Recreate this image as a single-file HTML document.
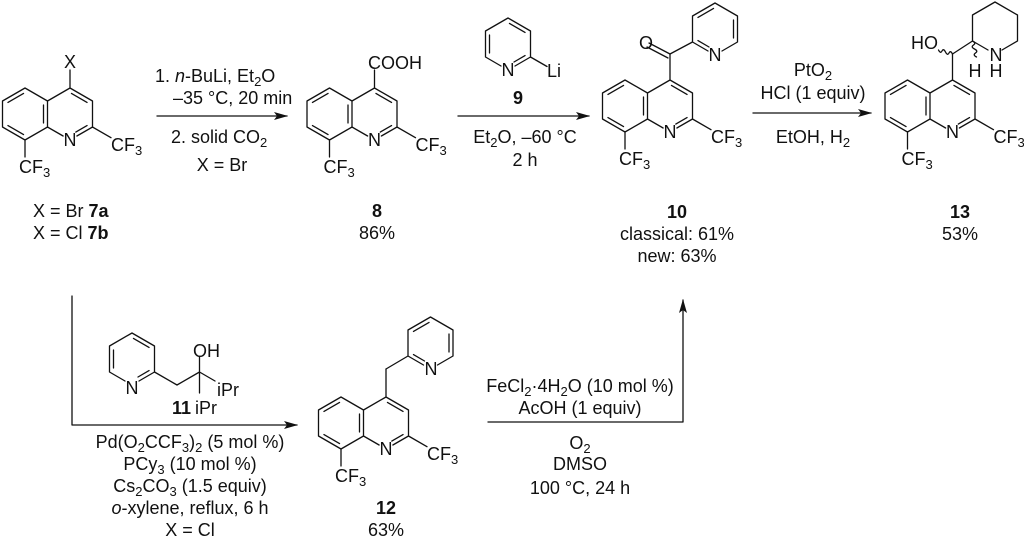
<!DOCTYPE html>
<html><head><meta charset="utf-8"><style>
html,body{margin:0;padding:0;background:#fff}
svg{display:block}
text{font-family:"Liberation Sans",Arial,sans-serif;font-size:18px;fill:#111}
.b{font-weight:bold}
</style></head><body>
<svg width="1024" height="544" viewBox="0 0 1024 544" xmlns="http://www.w3.org/2000/svg">
<defs>
<marker id="ah" viewBox="0 0 14 8" refX="13" refY="4" markerWidth="14" markerHeight="8" markerUnits="userSpaceOnUse" orient="auto"><path d="M0,0 L14,4 L0,8 L3,4 Z" fill="#111"/></marker>
</defs>
<g fill="none" stroke="#111" stroke-width="1.3" stroke-linecap="round" stroke-linejoin="round">
<g transform="translate(25,88)"><path d="M0,0 L22.5,13 L22.5,39 L0,52 L-22.5,39 L-22.5,13 Z M22.5,13 L45,0 L67.5,13 L67.5,39 L51.9,48 M38.1,48 L22.5,39 M-17.04,14.46 L-1.46,5.46 M-17.04,37.54 L-1.46,46.54 M18.5,17 L18.5,35 M46.46,5.46 L62.04,14.46 M62.04,37.54 L50.8,44.04 M67.5,39 L86,49.7 M0,52 L0,69 M45,0 L45,-18"/></g>
<g transform="translate(329.5,88)"><path d="M0,0 L22.5,13 L22.5,39 L0,52 L-22.5,39 L-22.5,13 Z M22.5,13 L45,0 L67.5,13 L67.5,39 L51.9,48 M38.1,48 L22.5,39 M-17.04,14.46 L-1.46,5.46 M-17.04,37.54 L-1.46,46.54 M18.5,17 L18.5,35 M46.46,5.46 L62.04,14.46 M62.04,37.54 L50.8,44.04 M67.5,39 L86,49.7 M0,52 L0,69 M45,0 L45,-18"/></g>
<g transform="translate(625,80)"><path d="M0,0 L22.5,13 L22.5,39 L0,52 L-22.5,39 L-22.5,13 Z M22.5,13 L45,0 L67.5,13 L67.5,39 L51.9,48 M38.1,48 L22.5,39 M-17.04,14.46 L-1.46,5.46 M-17.04,37.54 L-1.46,46.54 M18.5,17 L18.5,35 M46.46,5.46 L62.04,14.46 M62.04,37.54 L50.8,44.04 M67.5,39 L86,49.7 M0,52 L0,69 M45,0 L45,-26"/></g>
<g transform="translate(907.5,80)"><path d="M0,0 L22.5,13 L22.5,39 L0,52 L-22.5,39 L-22.5,13 Z M22.5,13 L45,0 L67.5,13 L67.5,39 L51.9,48 M38.1,48 L22.5,39 M-17.04,14.46 L-1.46,5.46 M-17.04,37.54 L-1.46,46.54 M18.5,17 L18.5,35 M46.46,5.46 L62.04,14.46 M62.04,37.54 L50.8,44.04 M67.5,39 L86,49.7 M0,52 L0,69 M45,0 L45,-26"/></g>
<g transform="translate(341,397)"><path d="M0,0 L22.5,13 L22.5,39 L0,52 L-22.5,39 L-22.5,13 Z M22.5,13 L45,0 L67.5,13 L67.5,39 L51.9,48 M38.1,48 L22.5,39 M-17.04,14.46 L-1.46,5.46 M-17.04,37.54 L-1.46,46.54 M18.5,17 L18.5,35 M46.46,5.46 L62.04,14.46 M62.04,37.54 L50.8,44.04 M67.5,39 L86,49.7 M0,52 L0,69 M45,0 L45,-28"/></g>

<!-- pyridine 9 -->
<path d="M515,66 L530.5,57 L530.5,31 L508,18 L485.5,31 L485.5,57 L501,66 M530.5,57 L547,66.5 M489.5,35 L489.5,53 M509.46,23.46 L525.04,32.46 M525.04,55.54 L514,62"/>
<!-- carbonyl + pyridine of 10 -->
<path d="M670,54 L692.5,42 M670,54 L649,43 M668,58 L647,47 M708,51 L692.5,42 L692.5,16 L715,3 L737.5,16 L737.5,42 L722,51 M697.96,17.46 L713.54,8.46 M733.5,20 L733.5,38 M697.96,40.54 L709,47"/>
<!-- 13 -->
<path d="M952.5,54 L972.5,41 M988,50 L972.5,41 L972.5,15 L995,2 L1017.5,15 L1017.5,41 L1002,50"/>
<path d="M952.5,54 q-2,-4 -3.5,-1 q-1.5,3 -3.5,-1 q-2,-4 -3.5,-1 q-1.5,3 -3.5,-1"/>
<path d="M972.5,41 q4,2 1,4 q-3,2 1,4 q4,2 1,4 q-3,2 1,4"/>
<!-- pyridine 12 -->
<path d="M386,369 L408,356 M423.5,365 L408,356 L408,330 L430.5,317 L453,330 L453,356 L437.5,365 M413.46,331.46 L429.04,322.46 M449,334 L449,352 M413.46,354.54 L424.5,361"/>
<!-- compound 11 -->
<path d="M139,381 L154.5,372 L154.5,346 L132,333 L109.5,346 L109.5,372 L125,381 M113.5,350 L113.5,368 M133.46,338.46 L149.04,347.46 M149.04,370.54 L138,377 M154.5,372 L177,385 L199.5,372 L199.5,357 M199.5,372 L215,381 M199.5,372 L199.5,393"/>
<!-- arrows -->
<line x1="157" y1="116" x2="287" y2="116" marker-end="url(#ah)"/>
<line x1="458" y1="116" x2="589" y2="116" marker-end="url(#ah)"/>
<line x1="753" y1="113" x2="871" y2="113" marker-end="url(#ah)"/>
<polyline points="72,296 72,425 297,425" marker-end="url(#ah)"/>
<polyline points="488,422 683,422 683,300" marker-end="url(#ah)"/>
</g>

<text x="70" y="146" text-anchor="middle">N</text>
<text x="111" y="151">CF<tspan font-size="13" dy="4">3</tspan></text>
<text x="19" y="173">CF<tspan font-size="13" dy="4">3</tspan></text>
<text x="70" y="68" text-anchor="middle">X</text>
<text x="33" y="217">X = Br <tspan class="b">7a</tspan></text>
<text x="33" y="239">X = Cl <tspan class="b">7b</tspan></text>
<text x="155" y="82">1. <tspan font-style="italic">n</tspan>-BuLi, Et<tspan font-size="13" dy="4">2</tspan><tspan dy="-4">O</tspan></text>
<text x="173" y="104">–35 °C, 20 min</text>
<text x="171" y="143">2. solid CO<tspan font-size="13" dy="4">2</tspan></text>
<text x="222" y="171" text-anchor="middle">X = Br</text>
<text x="374.5" y="146" text-anchor="middle">N</text>
<text x="415.5" y="151">CF<tspan font-size="13" dy="4">3</tspan></text>
<text x="323.5" y="173">CF<tspan font-size="13" dy="4">3</tspan></text>
<text x="368" y="69">COOH</text>
<text x="377" y="217" text-anchor="middle" class="b">8</text>
<text x="377" y="239" text-anchor="middle">86%</text>
<text x="508" y="76" text-anchor="middle">N</text>
<text x="547" y="77">Li</text>
<text x="518" y="104" text-anchor="middle" class="b">9</text>
<text x="525" y="143" text-anchor="middle">Et<tspan font-size="13" dy="4">2</tspan><tspan dy="-4">O, –60 °C</tspan></text>
<text x="525" y="166" text-anchor="middle">2 h</text>
<text x="670" y="138" text-anchor="middle">N</text>
<text x="711" y="143">CF<tspan font-size="13" dy="4">3</tspan></text>
<text x="619" y="165">CF<tspan font-size="13" dy="4">3</tspan></text>
<text x="646" y="49" text-anchor="middle">O</text>
<text x="715" y="61" text-anchor="middle">N</text>
<text x="677" y="218" text-anchor="middle" class="b">10</text>
<text x="677" y="240" text-anchor="middle">classical: 61%</text>
<text x="677" y="262" text-anchor="middle">new: 63%</text>
<text x="813" y="76" text-anchor="middle">PtO<tspan font-size="13" dy="4">2</tspan></text>
<text x="813" y="99" text-anchor="middle">HCl (1 equiv)</text>
<text x="813" y="143" text-anchor="middle">EtOH, H<tspan font-size="13" dy="4">2</tspan></text>
<text x="952.5" y="138" text-anchor="middle">N</text>
<text x="993.5" y="143">CF<tspan font-size="13" dy="4">3</tspan></text>
<text x="901.5" y="165">CF<tspan font-size="13" dy="4">3</tspan></text>
<text x="938" y="49" text-anchor="end">HO</text>
<text x="996" y="61" text-anchor="middle">N</text>
<text x="996" y="77" text-anchor="middle">H</text>
<text x="975" y="77" text-anchor="middle">H</text>
<text x="960" y="218" text-anchor="middle" class="b">13</text>
<text x="960" y="240" text-anchor="middle">53%</text>
<text x="132" y="394" text-anchor="middle">N</text>
<text x="193" y="357">OH</text>
<text x="217" y="396">iPr</text>
<text x="195" y="414">iPr</text>
<text x="172" y="414" class="b">11</text>
<text x="190" y="448" text-anchor="middle">Pd(O<tspan font-size="13" dy="4">2</tspan><tspan dy="-4">CCF</tspan><tspan font-size="13" dy="4">3</tspan><tspan dy="-4">)</tspan><tspan font-size="13" dy="4">2</tspan><tspan dy="-4"> (5 mol %)</tspan></text>
<text x="190" y="470" text-anchor="middle">PCy<tspan font-size="13" dy="4">3</tspan><tspan dy="-4"> (10 mol %)</tspan></text>
<text x="190" y="492" text-anchor="middle">Cs<tspan font-size="13" dy="4">2</tspan><tspan dy="-4">CO</tspan><tspan font-size="13" dy="4">3</tspan><tspan dy="-4"> (1.5 equiv)</tspan></text>
<text x="190" y="514" text-anchor="middle"><tspan font-style="italic">o</tspan>-xylene, reflux, 6 h</text>
<text x="190" y="536" text-anchor="middle">X = Cl</text>
<text x="386" y="455" text-anchor="middle">N</text>
<text x="427" y="460">CF<tspan font-size="13" dy="4">3</tspan></text>
<text x="335" y="482">CF<tspan font-size="13" dy="4">3</tspan></text>
<text x="431" y="375" text-anchor="middle">N</text>
<text x="386" y="514" text-anchor="middle" class="b">12</text>
<text x="386" y="536" text-anchor="middle">63%</text>
<text x="580" y="392" text-anchor="middle">FeCl<tspan font-size="13" dy="4">2</tspan><tspan dy="-4">·4H</tspan><tspan font-size="13" dy="4">2</tspan><tspan dy="-4">O (10 mol %)</tspan></text>
<text x="580" y="414" text-anchor="middle">AcOH (1 equiv)</text>
<text x="580" y="449" text-anchor="middle">O<tspan font-size="13" dy="4">2</tspan></text>
<text x="580" y="470" text-anchor="middle">DMSO</text>
<text x="580" y="494" text-anchor="middle">100 °C, 24 h</text>
</svg>
</body></html>
